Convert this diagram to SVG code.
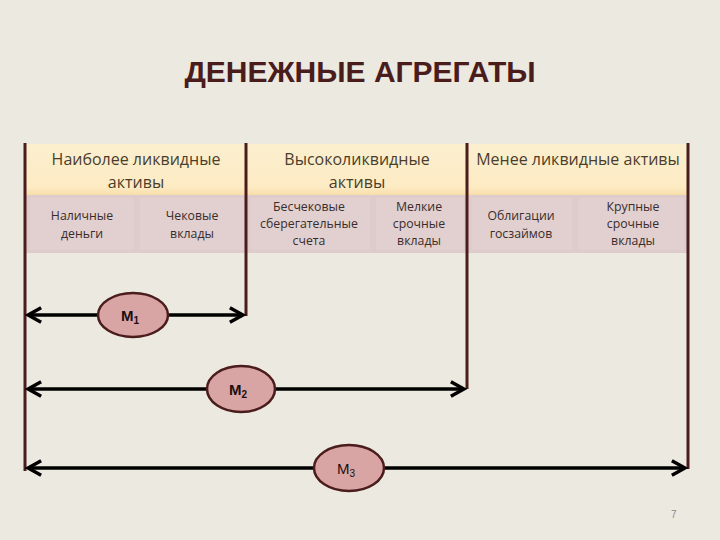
<svg xmlns="http://www.w3.org/2000/svg" width="720" height="540" viewBox="0 0 720 540">
  <defs>
    <linearGradient id="hdr" x1="0" y1="0" x2="0" y2="1">
      <stop offset="0" stop-color="#FBEFCF"/>
      <stop offset="0.85" stop-color="#FDEBC3"/>
      <stop offset="1" stop-color="#F8DDAA"/>
    </linearGradient>
    <marker id="arr" viewBox="0 0 12 12" refX="10" refY="6" markerWidth="5" markerHeight="5" orient="auto-start-reverse" markerUnits="strokeWidth">
      <path d="M1,1 L10,6 L1,11" fill="none" stroke="#000" stroke-width="2.4" stroke-linejoin="miter"/>
    </marker>
    <style>
      .title { font-family: "Liberation Sans", "Open Sans", sans-serif; font-weight: bold; font-size: 30px; fill: #4a1c1c; }
      .hdr { font-family: "Open Sans", "Liberation Sans", sans-serif; font-size: 16px; fill: #4a3d2c; text-anchor: middle; }
      .cell { font-family: "Open Sans", "Liberation Sans", sans-serif; font-size: 12.3px; fill: #3a2c2c; text-anchor: middle; }
      .vline { stroke: #4a1c1c; stroke-width: 3; fill: none; }
      .arrow { stroke: #000; stroke-width: 3.5; fill: none; marker-start: url(#arr); marker-end: url(#arr); }
      .oval { fill: #D9A4A4; stroke: #4a1c1c; stroke-width: 2.5; }
      .m { font-family: "Liberation Sans", "Open Sans", sans-serif; font-size: 15px; fill: #1a1010; text-anchor: middle; }
      .pg { font-family: "Liberation Sans", sans-serif; font-size: 10px; fill: #8a8a8a; }
    </style>
  </defs>
  <rect width="720" height="540" fill="#ECE9E0"/>
  <text class="title" x="360" y="82" text-anchor="middle">ДЕНЕЖНЫЕ АГРЕГАТЫ</text>

  <g id="table">
    <rect x="25" y="144" width="663" height="51" fill="url(#hdr)"/>
    <rect x="25" y="195" width="663" height="58" fill="#DECCCC"/>
    <rect x="30" y="198" width="104" height="52" fill="#E1D0CF"/>
    <rect x="140" y="198" width="104" height="52" fill="#E1D0CF"/>
    <rect x="250" y="198" width="120" height="52" fill="#E1D0CF"/>
    <rect x="376" y="198" width="88" height="52" fill="#E1D0CF"/>
    <rect x="472" y="198" width="100" height="52" fill="#E1D0CF"/>
    <rect x="578" y="198" width="106" height="52" fill="#E1D0CF"/>
  </g>

  <g id="col1">
    <text class="hdr" x="136" y="165">Наиболее ликвидные</text>
    <text class="hdr" x="136" y="188">активы</text>
    <text class="cell" x="82" y="220">Наличные</text>
    <text class="cell" x="82" y="238">деньги</text>
    <text class="cell" x="192" y="220">Чековые</text>
    <text class="cell" x="192" y="238">вклады</text>
  </g>
  <g id="col2">
    <text class="hdr" x="357" y="165">Высоколиквидные</text>
    <text class="hdr" x="357" y="188">активы</text>
    <text class="cell" x="309" y="211">Бесчековые</text>
    <text class="cell" x="309" y="228">сберегательные</text>
    <text class="cell" x="309" y="245">счета</text>
    <text class="cell" x="419" y="211">Мелкие</text>
    <text class="cell" x="419" y="228">срочные</text>
    <text class="cell" x="419" y="245">вклады</text>
  </g>
  <g id="col3">
    <text class="hdr" x="578" y="165">Менее ликвидные активы</text>
    <text class="cell" x="521" y="220">Облигации</text>
    <text class="cell" x="521" y="238">госзаймов</text>
    <text class="cell" x="633" y="211">Крупные</text>
    <text class="cell" x="633" y="228">срочные</text>
    <text class="cell" x="633" y="245">вклады</text>
  </g>

  <g id="connectors">
    <line class="vline" x1="25" y1="143" x2="25" y2="471"/>
    <line class="vline" x1="246" y1="143" x2="246" y2="316"/>
    <line class="vline" x1="467" y1="143" x2="467" y2="389"/>
    <line class="vline" x1="688" y1="143" x2="688" y2="469"/>
    <line class="arrow" x1="28" y1="315" x2="243" y2="315"/>
    <line class="arrow" x1="28" y1="389" x2="464" y2="389"/>
    <line class="arrow" x1="28" y1="468" x2="685" y2="468"/>
  </g>

  <g id="m1">
    <ellipse class="oval" cx="133" cy="315" rx="35" ry="22"/>
    <text class="m" x="130" y="321" font-weight="bold">M<tspan font-size="10" dy="3">1</tspan></text>
  </g>
  <g id="m2">
    <ellipse class="oval" cx="241" cy="389" rx="34" ry="23"/>
    <text class="m" x="238" y="395" font-weight="bold">M<tspan font-size="10" dy="3">2</tspan></text>
  </g>
  <g id="m3">
    <ellipse class="oval" cx="349" cy="468" rx="35" ry="23"/>
    <text class="m" x="346" y="474">M<tspan font-size="10" dy="3">3</tspan></text>
  </g>

  <text class="pg" x="671" y="518">7</text>
</svg>
